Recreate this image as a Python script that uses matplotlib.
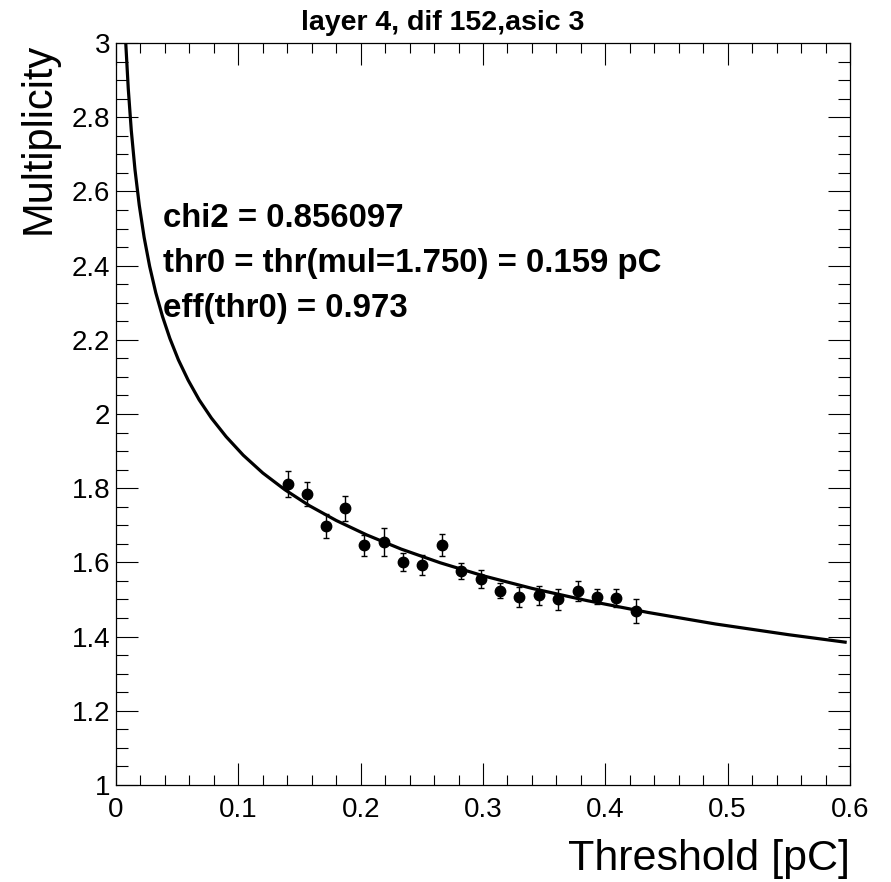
import numpy as np
import matplotlib
matplotlib.use('Agg')
import matplotlib.pyplot as plt
from matplotlib.ticker import MultipleLocator, FormatStrFormatter

# Data points
thr = [0.1404, 0.1562, 0.1720, 0.1875, 0.2030, 0.2190, 0.2347, 0.2504, 0.2661, 0.2817,
       0.2984, 0.3142, 0.3297, 0.3455, 0.3614, 0.3773, 0.3930, 0.4090, 0.4250]
mul = [1.811, 1.784, 1.698, 1.746, 1.646, 1.656, 1.602, 1.593, 1.647, 1.577,
       1.556, 1.524, 1.506, 1.511, 1.501, 1.522, 1.507, 1.504, 1.469]
mul_err = [0.035, 0.032, 0.032, 0.034, 0.028, 0.038, 0.024, 0.027, 0.030, 0.022,
           0.024, 0.020, 0.027, 0.026, 0.028, 0.027, 0.020, 0.023, 0.033]

# Fit curve, sampled along the drawn line
fit_x = [0.0078, 0.0100, 0.0125, 0.0155, 0.0190, 0.0230, 0.0275, 0.0325, 0.0380, 0.0440,
         0.0510, 0.0590, 0.0680, 0.0780, 0.0900, 0.1040, 0.1200, 0.1380, 0.1580, 0.1800,
         0.2050, 0.2330, 0.2650, 0.3000, 0.3400, 0.3850, 0.4350, 0.4900, 0.5500, 0.5960]
fit_y = [3.010, 2.878, 2.764, 2.659, 2.563, 2.476, 2.398, 2.327, 2.263, 2.204,
         2.146, 2.091, 2.038, 1.989, 1.939, 1.889, 1.841, 1.796, 1.753, 1.713,
         1.674, 1.636, 1.599, 1.564, 1.530, 1.497, 1.465, 1.434, 1.405, 1.385]

info = ["chi2 = 0.856097",
        "thr0 = thr(mul=1.750) = 0.159 pC",
        "eff(thr0) = 0.973"]

plt.rcParams['font.family'] = ['Liberation Sans', 'DejaVu Sans']

fig = plt.figure(figsize=(8.91, 8.82), dpi=100)
ax = fig.add_axes([0.1302, 0.110, 0.8238, 0.8412])

ax.plot(fit_x, fit_y, color='black', lw=2.3, solid_joinstyle='round')
ax.errorbar(thr, mul, yerr=mul_err, fmt='o', color='black', ms=7.5,
            elinewidth=1.0, capsize=2.5, capthick=1.0)

ax.set_xlim(0, 0.6)
ax.set_ylim(1, 3)
ax.xaxis.set_major_locator(MultipleLocator(0.1))
ax.xaxis.set_minor_locator(MultipleLocator(0.02))
ax.yaxis.set_major_locator(MultipleLocator(0.2))
ax.yaxis.set_minor_locator(MultipleLocator(0.05))
ax.xaxis.set_major_formatter(FormatStrFormatter('%g'))
ax.yaxis.set_major_formatter(FormatStrFormatter('%g'))

ax.tick_params(which='both', direction='in', top=True, right=True, width=0.8, color='black')
ax.tick_params(axis='x', which='major', length=16, pad=9, labelsize=20)
ax.tick_params(axis='x', which='minor', length=7)
ax.tick_params(axis='y', which='major', length=16, pad=4, labelsize=20)
ax.tick_params(axis='y', which='minor', length=8.5)
for s in ax.spines.values():
    s.set_linewidth(0.9)

ax.set_xlabel('Threshold [pC]', fontsize=31, loc='right')
ax.xaxis.set_label_coords(1.0, -0.073)
ax.set_ylabel('Multiplicity', fontsize=30, loc='top')
ax.yaxis.set_label_coords(-0.078, 1.0)

fig.text(0.497, 0.974, 'layer 4, dif 152,asic 3', ha='center', va='center',
         fontsize=20.5, fontweight='bold')

for i, line in enumerate(info):
    ax.text(0.064, 0.763 - i * 0.0607, line, transform=ax.transAxes,
            fontsize=23.8, fontweight='bold', va='center', ha='left')

fig.savefig('out.png', dpi=100)
